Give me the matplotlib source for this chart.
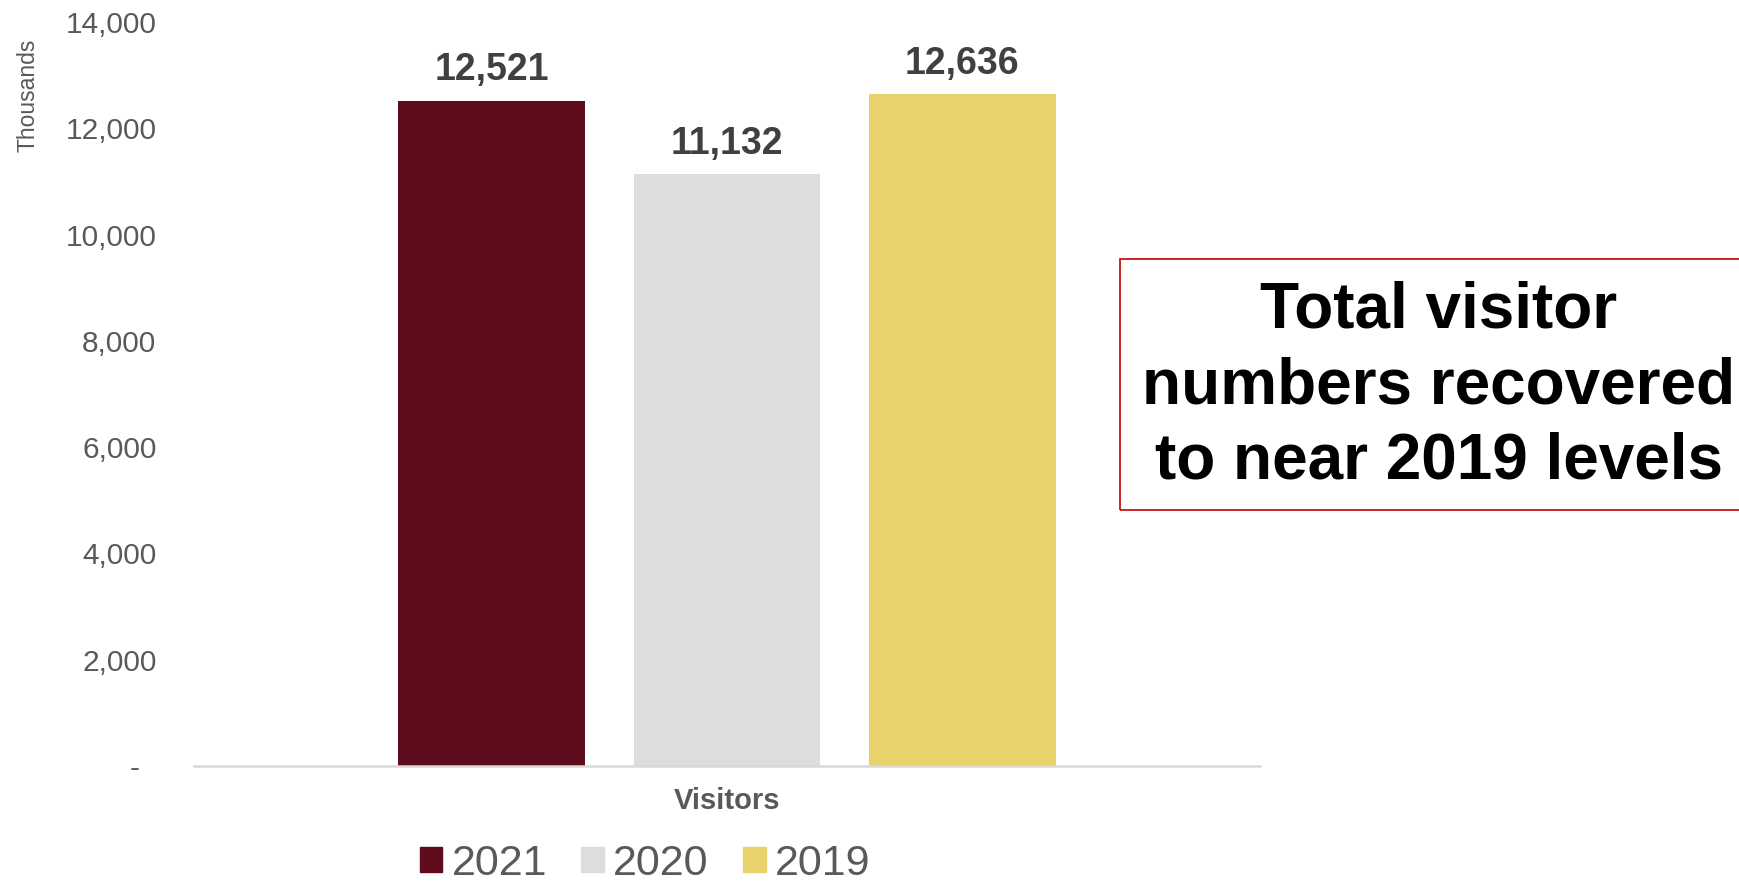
import matplotlib
matplotlib.use("Agg")
import matplotlib.pyplot as plt
import matplotlib.patches as mpatches
from matplotlib.ticker import FuncFormatter

plt.rcParams['font.family'] = ['Liberation Sans', 'DejaVu Sans']

years = ['2021', '2020', '2019']
visitors = [12521, 11132, 12636]   # thousands
colors = ['#5E0B1B', '#DDDDDB', '#E8D26C']
category = 'Visitors'
note = 'Total visitor\nnumbers recovered\nto near 2019 levels'

W, H = 1740, 881
fig = plt.figure(figsize=(W / 100, H / 100), dpi=100)
ax = fig.add_axes([194 / W, 115 / H, 1066 / W, 744 / H])

bw = 0.175
step = 0.2208
for i, (yr, v, c) in enumerate(zip(years, visitors, colors)):
    x = (i - 1) * step
    ax.bar(x, v, width=bw, color=c, label=yr, zorder=2)
    ax.annotate(f'{v:,}', (x, v), xytext=(0, 9), textcoords='offset points',
                ha='center', va='bottom', fontsize=27, fontweight='bold',
                color='#404040')

ax.set_xlim(-0.5, 0.5)
ax.set_ylim(0, 14000)
ax.set_yticks(range(0, 14001, 2000))
ax.yaxis.set_major_formatter(FuncFormatter(lambda v, p: '-  ' if v == 0 else f'{int(v):,}'))
ax.tick_params(axis='y', length=0, pad=27, labelsize=21.5, labelcolor='#595959')
ax.set_xticks([0])
ax.set_xticklabels([category])
ax.tick_params(axis='x', length=0, pad=15, labelsize=21, labelcolor='#595959')
for lbl in ax.get_xticklabels():
    lbl.set_fontweight('bold')

for s in ['top', 'right', 'left']:
    ax.spines[s].set_visible(False)
ax.spines['bottom'].set_color('#D9D9D9')
ax.spines['bottom'].set_linewidth(1.8)

fig.text(28 / W, 1 - 95 / H, 'Thousands', rotation=90, ha='center', va='center',
         fontsize=16.5, color='#595959')

handles = [mpatches.Patch(color=c) for c in colors]
fig.legend(handles, years, loc='center', bbox_to_anchor=(645 / W, 1 - 864 / H),
           ncol=3, frameon=False, fontsize=31, labelcolor='#595959',
           handlelength=0.52, handleheight=0.52, handletextpad=0.22, columnspacing=0.8)

# callout box on the right, running off the edge
box = mpatches.Rectangle((1120 / W, 1 - 510 / H), 640 / W, 251 / H,
                         transform=fig.transFigure, fill=False,
                         edgecolor='#C00000', linewidth=1.2)
fig.patches.append(box)
fig.text(1439 / W, 1 - 386 / H, note, ha='center', va='center',
         fontsize=46, fontweight='bold', color='black', linespacing=1.33)

fig.savefig('out.png', dpi=100)
